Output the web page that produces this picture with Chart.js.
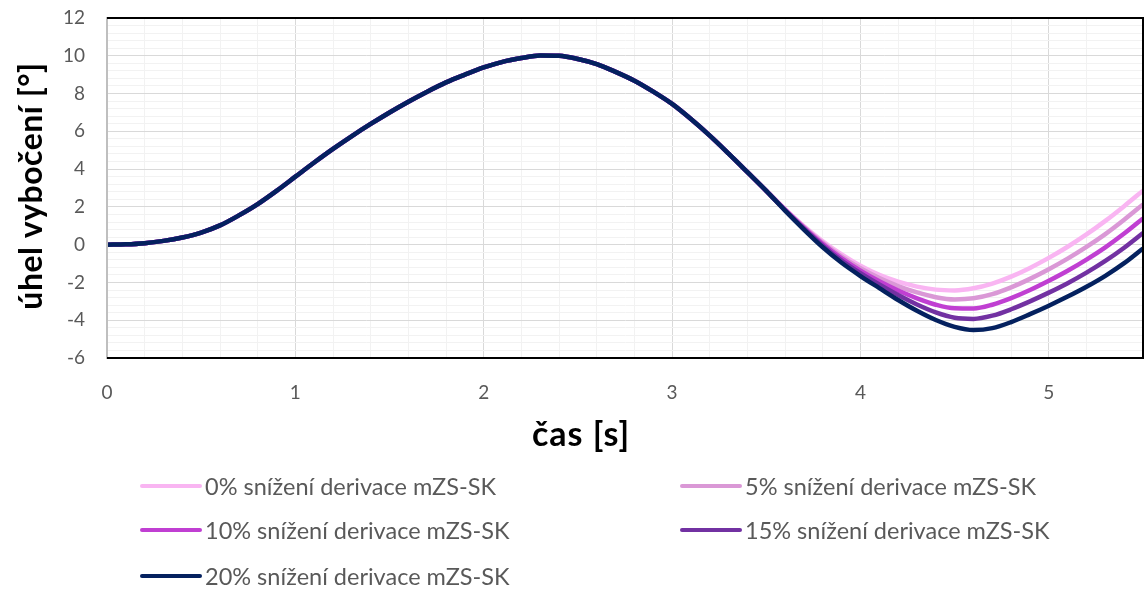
<!DOCTYPE html>
<html><head><meta charset="utf-8">
<script src="https://cdn.jsdelivr.net/npm/chart.js@4"></script>
<style>
html,body{margin:0;padding:0;background:#fff;}
#wrap{position:relative;width:1144px;height:590px;overflow:hidden;}
#c{position:absolute;left:0;top:0;}
.leg{position:absolute;font-family:Lato,sans-serif;font-size:23.5px;color:#595959;display:flex;align-items:center;white-space:nowrap;height:28px;}
.leg .s{display:inline-block;width:62px;height:4px;border-radius:2px;margin-right:3px;}
</style></head>
<body>
<div id="wrap"><canvas id="c" width="1144" height="590"></canvas><div id="legend"></div></div>
<script>
// shared part of the response (identical for all series)
const commonTime  = [0,0.1,0.2,0.3,0.4,0.5,0.6,0.7,0.8,0.9,1.0,1.1,1.2,1.3,1.4,1.5,1.6,1.7,1.8,1.9,2.0,2.1,2.2,2.3,2.4,2.5,2.6,2.7,2.8,2.9,3.0,3.1,3.2,3.3,3.4,3.5];
const commonAngle = [0,0.02,0.08,0.2,0.38,0.64,1.02,1.55,2.15,2.85,3.6,4.35,5.07,5.75,6.39,7.0,7.57,8.1,8.59,9.0,9.38,9.68,9.88,10.02,10.0,9.83,9.56,9.15,8.68,8.1,7.45,6.65,5.77,4.82,3.84,2.85];
// part where the series diverge
const splitTime = [3.6,3.7,3.8,3.9,4.0,4.1,4.2,4.3,4.4,4.5,4.6,4.7,4.8,4.9,5.0,5.1,5.2,5.3,5.4,5.5];
const angle0  = [1.88,0.98,0.18,-0.52,-1.12,-1.60,-1.96,-2.22,-2.38,-2.42,-2.31,-2.06,-1.69,-1.23,-0.70,-0.11,0.54,1.26,2.04,2.86];
const angle5  = [1.86,0.94,0.10,-0.63,-1.25,-1.77,-2.19,-2.53,-2.78,-2.90,-2.84,-2.62,-2.26,-1.81,-1.30,-0.74,-0.12,0.56,1.32,2.13];
const angle10 = [1.84,0.89,0.03,-0.73,-1.38,-1.94,-2.43,-2.84,-3.18,-3.37,-3.38,-3.18,-2.83,-2.40,-1.91,-1.38,-0.79,-0.14,0.59,1.39];
const angle15 = [1.82,0.85,-0.05,-0.84,-1.51,-2.11,-2.67,-3.17,-3.59,-3.87,-3.93,-3.76,-3.42,-3.00,-2.54,-2.04,-1.48,-0.86,-0.16,0.62];
const angle20 = [1.80,0.80,-0.14,-0.96,-1.66,-2.30,-2.93,-3.50,-3.99,-4.35,-4.52,-4.42,-4.10,-3.68,-3.23,-2.75,-2.23,-1.65,-0.98,-0.20];
const seriesNames = ['0% snížení derivace mZS-SK','5% snížení derivace mZS-SK','10% snížení derivace mZS-SK','15% snížení derivace mZS-SK','20% snížení derivace mZS-SK'];
const seriesColors = ['#F9B5F2','#DA98D6','#C03FD2','#7231A2','#04215F'];
const xTitle = 'čas [s]';
const yTitle = 'úhel vybočení [°]';

const splitSeries = [angle0, angle5, angle10, angle15, angle20];
function buildPoints(split){
  const pts = commonTime.map((t,i)=>({x:t,y:commonAngle[i]}));
  splitTime.forEach((t,i)=>pts.push({x:t,y:split[i]}));
  return pts;
}
const datasets = splitSeries.map((s,i)=>({
  label: seriesNames[i],
  data: buildPoints(s),
  borderColor: seriesColors[i],
  backgroundColor: seriesColors[i],
  borderWidth: 4.5,
  pointRadius: 0,
  cubicInterpolationMode: 'monotone',
  fill: false,
  order: 4 - i
}));

const isMult = (v,m)=>Math.abs(v/m - Math.round(v/m)) < 1e-6;
const FONT = 'Lato, sans-serif';
const zeroPad = s => { s.paddingTop = 0; s.paddingBottom = 0; s.paddingLeft = 0; s.paddingRight = 0; };

const frame = {
  id:'frame',
  afterDraw(chart){
    const {ctx, chartArea:a} = chart;
    ctx.save();
    ctx.strokeStyle = '#000'; ctx.lineWidth = 2;
    ctx.beginPath();
    ctx.moveTo(a.left, a.top); ctx.lineTo(a.right, a.top); ctx.lineTo(a.right, a.bottom); ctx.lineTo(a.left, a.bottom);
    ctx.stroke();
    ctx.strokeStyle = '#bfbfbf'; ctx.lineWidth = 2;
    ctx.beginPath(); ctx.moveTo(a.left, a.top+1); ctx.lineTo(a.left, a.bottom-1); ctx.stroke();
    // axis titles (centred like the original: x title on the whole chart, y title on the plot)
    ctx.fillStyle = '#000';
    ctx.textAlign = 'center'; ctx.textBaseline = 'middle';
    ctx.font = 'bold 34px ' + FONT;
    if ('letterSpacing' in ctx) ctx.letterSpacing = '1px';
    ctx.fillText(xTitle, 581, 435);
    ctx.font = 'bold 32px ' + FONT;
    if ('letterSpacing' in ctx) ctx.letterSpacing = '0.5px';
    ctx.translate(32, (a.top + a.bottom) / 2 - 2);
    ctx.rotate(-Math.PI / 2);
    ctx.fillText(yTitle, 0, 0);
    ctx.restore();
  }
};

new Chart(document.getElementById('c'), {
  type: 'line',
  data: { datasets },
  options: {
    responsive: false,
    animation: false,
    layout: { padding: { left: 0, right: 1, top: 18, bottom: 137 } },
    plugins: { legend: { display: false }, tooltip: { enabled: false } },
    scales: {
      x: {
        type: 'linear', min: 0, max: 5.5,
        afterFit(s){ s.height = 95; zeroPad(s); },
        ticks: { stepSize: 0.2, autoSkip: false, maxRotation: 0, padding: 23,
          color: '#595959', font: { family: FONT, size: 19 },
          callback: v => isMult(v,1) ? String(Math.round(v)) : '' },
        grid: { drawTicks: false, lineWidth: 1,
          color: c => isMult(c.tick.value,1) ? '#d9d9d9' : '#f2f2f2' },
        border: { color: '#000', width: 2 },
        title: { display: false, text: xTitle }
      },
      y: {
        type: 'linear', min: -6, max: 12,
        afterFit(s){ s.width = 107; zeroPad(s); },
        ticks: { stepSize: 0.4, autoSkip: false, padding: 22,
          color: '#595959', font: { family: FONT, size: 19 },
          callback: v => isMult(v,2) ? String(Math.round(v)) : '' },
        grid: { drawTicks: false, lineWidth: 1,
          color: c => isMult(c.tick.value,2) ? '#d9d9d9' : '#f2f2f2' },
        border: { color: '#bfbfbf', width: 2 },
        title: { display: false, text: yTitle }
      }
    }
  },
  plugins: [frame]
});

// legend (HTML), two columns
const legendPos = [[140,487],[680,487],[140,531],[680,531],[140,577]];
const lg = document.getElementById('legend');
datasets.forEach((d,i)=>{
  const el = document.createElement('div');
  el.className = 'leg';
  el.style.left = legendPos[i][0] + 'px';
  el.style.top = (legendPos[i][1] - 15) + 'px';
  const sw = document.createElement('span');
  sw.className = 's'; sw.style.background = d.borderColor;
  el.appendChild(sw);
  el.appendChild(document.createTextNode(d.label));
  lg.appendChild(el);
});
</script>
</body></html>
